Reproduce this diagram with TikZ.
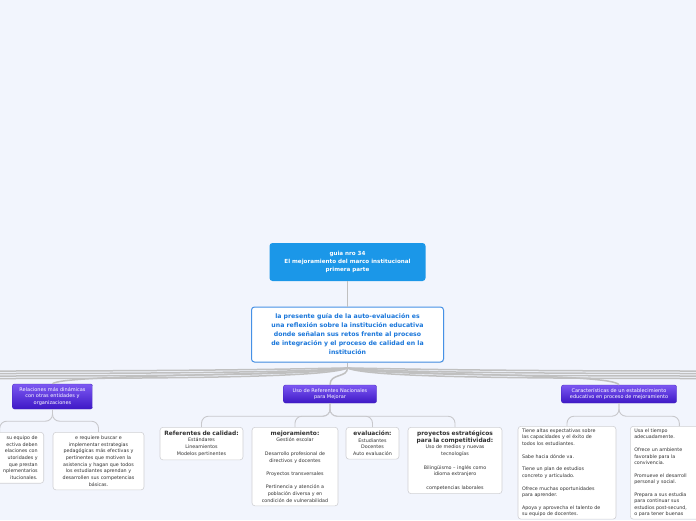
\documentclass[tikz,border=0pt]{standalone}
\usepackage{fontspec}
\setmainfont{DejaVu Sans}
\definecolor{mmback}{RGB}{242,245,253}
\definecolor{mmblue}{RGB}{27,151,232}
\definecolor{mmbluetext}{RGB}{25,118,218}
\definecolor{mmblueline}{RGB}{70,145,230}
\definecolor{mmpurpletop}{RGB}{124,88,242}
\definecolor{mmpurplebot}{RGB}{62,24,198}
\definecolor{mmpurpleline}{RGB}{70,40,190}
\definecolor{mmline}{RGB}{192,192,192}
\definecolor{mmtwig}{RGB}{200,200,204}
\definecolor{mmleafline}{RGB}{208,208,212}
\definecolor{mmtext}{RGB}{50,50,50}
\usetikzlibrary{shadows}
\newcommand{\topfont}{\fontsize{5.6}{8}\selectfont\bfseries}
\newcommand{\guidefont}{\fontsize{6.2}{9}\selectfont\bfseries}
\newcommand{\branchfont}{\fontsize{5}{6.6}\selectfont}
\newcommand{\leaffont}{\fontsize{4.8}{6.7}\selectfont}
\newcommand{\tightfont}{\fontsize{4.8}{6.4}\selectfont}
\newcommand{\headfont}{\fontsize{5.9}{7}\selectfont\bfseries}

\begin{document}
\begin{tikzpicture}[x=1pt,y=-1pt,
  mainbox/.style={fill=mmblue, rounded corners=3pt, text=white, font=\topfont, align=center,
    minimum width=156pt, minimum height=38pt, inner sep=0pt},
  guidebox/.style={fill=white, draw=mmblueline, line width=1pt, rounded corners=3pt,
    text=mmbluetext, font=\guidefont, align=center, minimum width=192pt, minimum height=55pt,
    inner sep=0pt, drop shadow={opacity=0.15, shadow xshift=0.6pt, shadow yshift=-0.8pt}},
  branch/.style={top color=mmpurpletop, bottom color=mmpurplebot, draw=mmpurpleline,
    line width=0.4pt, rounded corners=2pt, text=white, font=\branchfont, align=center, inner sep=0pt},
  leaf/.style={fill=white, draw=mmleafline, line width=0.6pt, rounded corners=3pt, text=mmtext,
    font=\leaffont, anchor=north, inner xsep=3pt, inner ysep=3.5pt},
  fan/.style={draw=mmline, line width=1.5pt},
  twig/.style={draw=mmtwig, line width=0.9pt, rounded corners=7pt}]

  \useasboundingbox (0,0) rectangle (696,520);
  \fill[mmback] (0,0) rectangle (696,520);
  \clip (0,0) rectangle (696,520);

  % Central topic
  \node[mainbox] (guia) at (347.5,262) {guia nro 34\\El mejoramiento del marco institucional\\primera parte};
  \node[guidebox] (reflexion) at (347.5,334.5) {la presente guía de la auto-evaluación es\\una reflexión sobre la institución educativa\\donde señalan sus retos frente al proceso\\de integración y el proceso de calidad en la\\institución};
  \draw[draw=mmline, line width=1pt] (guia.south) -- (reflexion.north);

  % Main branches
  \node[branch, minimum width=80pt, minimum height=25pt] (relaciones) at (52.5,396.5) {Relaciones más dinámicas\\con otras entidades y\\organizaciones};
  \node[branch, minimum width=93pt, minimum height=18pt] (referentes) at (330,394) {Uso de Referentes Nacionales\\para Mejorar};
  \node[branch, minimum width=115pt, minimum height=18pt] (caracteristicas) at (619,394) {Características de un establecimiento\\educativo en proceso de mejoramiento};

  \coordinate (hub) at (347.5,368);
  \draw[fan] (reflexion.south) -- (hub);
  \foreach \i/\e in {1/371,2/373.5,3/376,4/378.5} {
    \coordinate (west\i) at (-5,\e);
    \coordinate (east\i) at (701,\e);
    \draw[fan] (hub) .. controls (330,\e-3) and (240,\e) .. (west\i);
    \draw[fan] (hub) .. controls (365,\e-3) and (455,\e) .. (east\i);
  }
  \draw[fan] (hub) .. controls (300,376) and (62,374) .. (relaciones.north);
  \draw[fan] (hub) .. controls (347.5,378) and (330,373) .. (referentes.north);
  \draw[fan] (hub) .. controls (400,376) and (612,373) .. (caracteristicas.north);

  % Relaciones
  \node[leaf, anchor=north east, text width=76pt, align=right, inner xsep=6pt] (equipo) at (44,432) {su equipo de\\ectiva deben\\elaciones con\\utoridades y\\que prestan\\nplementarios\\itucionales.};
  \node[leaf, text width=85pt, align=center] (estrategias) at (98.5,432) {e requiere buscar e\\implementar estrategias\\pedagógicas más efectivas y\\pertinentes que motiven la\\asistencia y hagan que todos\\los estudiantes aprendan y\\desarrollen sus competencias\\básicas.};
  \draw[twig] (relaciones.south) -- ++(0,12) -| (equipo.north);
  \draw[twig] (relaciones.south) -- ++(0,12) -| (estrategias.north);

  % Referentes
  \node[leaf, text width=77pt, align=center] (calidad) at (201.5,427) {{\headfont Referentes de calidad:}\\Estándares\\Lineamientos\\Modelos pertinentes};
  \node[leaf, text width=80pt, align=center] (mejora) at (295,427) {{\headfont mejoramiento:}\\Gestión escolar\\[6.7pt]Desarrollo profesional de\\directivos y docentes\\[6.7pt]Proyectos transversales\\[6.7pt]Pertinencia y atención a\\población diversa y en\\condición de vulnerabilidad};
  \node[leaf, text width=47pt, align=center] (evaluacion) at (372.5,427) {{\headfont evaluación:}\\Estudiantes\\Docentes\\Auto evaluación};
  \node[leaf, text width=88pt, align=center] (proyectos) at (455,427) {{\headfont proyectos estratégicos\\para la competitividad:}\\Uso de medios y nuevas\\tecnologías\\[6.7pt]Bilingüismo – inglés como\\idioma extranjero\\[6.7pt]competencias laborales\\[2pt]};
  \foreach \leafname in {calidad,mejora,evaluacion,proyectos}
    \draw[twig] (referentes.south) -- ++(0,13) -| (\leafname.north);

  % Caracteristicas
  \node[leaf, font=\tightfont, text width=90pt, align=left, inner xsep=4pt, inner ysep=2.5pt] (expectativas) at (567,426) {Tiene altas expectativas sobre\\las capacidades y el éxito de\\todos los estudiantes.\\[6.4pt]Sabe hacia dónde va.\\[6.4pt]Tiene un plan de estudios\\concreto y articulado.\\[6.4pt]Ofrece muchas oportunidades\\para aprender.\\[6.4pt]Apoya y aprovecha el talento de\\su equipo de docentes.\\[20pt]};
  \node[leaf, font=\tightfont, anchor=north west, text width=90pt, align=left, inner xsep=4pt, inner ysep=2.5pt] (tiempo) at (630,426) {Usa el tiempo\\adecuadamente.\\[6.4pt]Ofrece un ambiente\\favorable para la\\convivencia.\\[6.4pt]Promueve el desarroll\\personal y social.\\[6.4pt]Prepara a sus estudia\\para continuar sus\\estudios post-secund,\\o para tener buenas\\[20pt]};
  \draw[twig] (caracteristicas.south) -- ++(0,13) -| (expectativas.north);
  \draw[twig] (caracteristicas.south) -- ++(0,13) -| (tiempo.north);
\end{tikzpicture}
\end{document}
